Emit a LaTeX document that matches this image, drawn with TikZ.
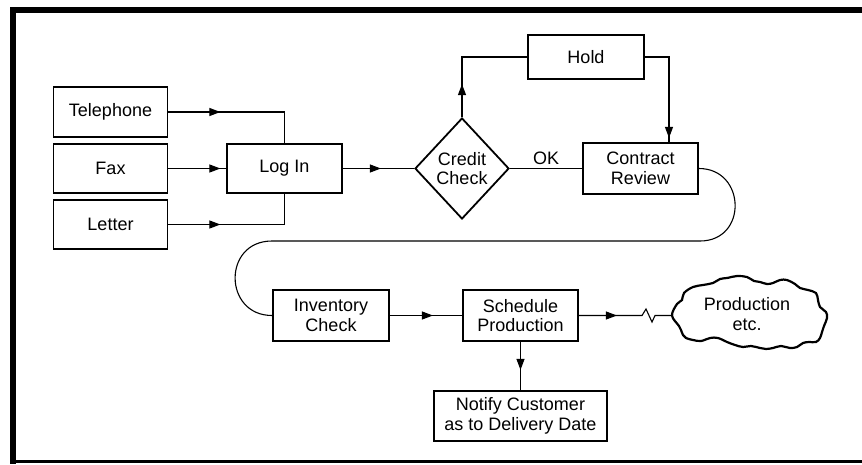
\documentclass[tikz,border=0pt]{standalone}
\usepackage{fontspec}
\setmainfont{Liberation Sans}
\usetikzlibrary{arrows.meta,shapes.geometric,decorations.markings}
\begin{document}
\begin{tikzpicture}[x=1pt,y=-1pt,
  txt/.style={font=\fontsize{18}{19.5}\selectfont,align=center},
  box/.style={txt,draw,line width=1.8pt,inner sep=0pt},
  conn/.style={line width=1.1pt},
  tipat/.style={postaction={decorate},decoration={markings,mark=at position #1 with {\arrow{Triangle[length=11pt,width=8pt]}}}},
]
\useasboundingbox (0,0) rectangle (862,464);
% frame
\fill (10,7) rectangle (16,464);
\fill (10,7) rectangle (862,13);
\fill (10,460) rectangle (862,463);

% nodes
\node[box,minimum width=114pt,minimum height=50pt] (tel) at (110.5,112) {Telephone};
\node[box,minimum width=114pt,minimum height=49pt] (fax) at (110.5,168.5) {Fax};
\node[box,minimum width=114pt,minimum height=49pt] (let) at (110.5,224.5) {Letter};
\node[box,minimum width=115pt,minimum height=49pt] (login) at (284.5,168.5) {Log In};
\node[box,diamond,minimum width=94pt,minimum height=101pt] (cc) at (462,168.5) {Credit\\Check};
\node[box,minimum width=116pt,minimum height=44pt] (hold) at (586,57) {Hold};
\node[box,minimum width=115pt,minimum height=51pt] (cr) at (640.5,168.5) {Contract\\Review};
\node[box,minimum width=116pt,minimum height=51pt] (inv) at (331,315.5) {Inventory\\Check};
\node[box,minimum width=115pt,minimum height=51pt] (sch) at (520.5,315.5) {Schedule\\Production};
\node[box,minimum width=173pt,minimum height=50pt] (notify) at (520.5,416) {Notify Customer\\as to Delivery Date};
\node[txt] (cloud) at (747,314) {Production\\etc.};
\draw[line width=2.2pt] plot[smooth cycle,tension=0.6] coordinates {
  (672,315.5) (677,304) (682,300) (684,293) (693,287) (703,285) (713,283)
  (720,279) (727,278) (737,276) (747,277) (754,281) (760,282) (767,284)
  (773,283) (780,280) (787,280) (795,284) (800,288) (808,290) (816,293)
  (818,300) (820,307) (826,312) (827,318) (824,326) (822,332) (820,338)
  (816,342) (809,342) (803,343) (797,347) (790,348) (781,346) (773,348)
  (766,349) (760,348) (751,346) (743,347) (735,345) (727,342) (718,338)
  (710,338) (701,341) (693,340) (686,338) (683,335) (681,330) (679,326)};
\coordinate (cloudw) at (672,315.5);

% connectors
\draw[conn,tipat=52pt] (tel.east) -| (login.north);
\draw[conn,tipat=52pt] (fax) -- (login);
\draw[conn,tipat=52pt] (let.east) -| (login.south);
\draw[conn,tipat=38pt] (login) -- (cc);
\draw[conn,tipat=33pt] (cc.north) |- (hold.west);
\draw[conn,tipat=105pt] (hold.east) -| ([xshift=28.5pt]cr.north);
\draw[conn] (cc) -- node[txt,above,inner sep=3pt] {OK} (cr);
\draw[conn] (cr.east) .. controls (746,168.5) and (748,241) .. (700,241)
  -- (272,241) .. controls (222.3,241) and (223.3,315.5) .. (inv.west);
\draw[conn,tipat=43pt] (inv) -- (sch);
\draw[conn,tipat=28pt] (sch) -- (notify);
\draw[conn,tipat=38pt] (sch.east) -- (642,315.5) -- (646,309) -- (652,322) -- (655,315.5) -- (cloudw);
\end{tikzpicture}
\end{document}
